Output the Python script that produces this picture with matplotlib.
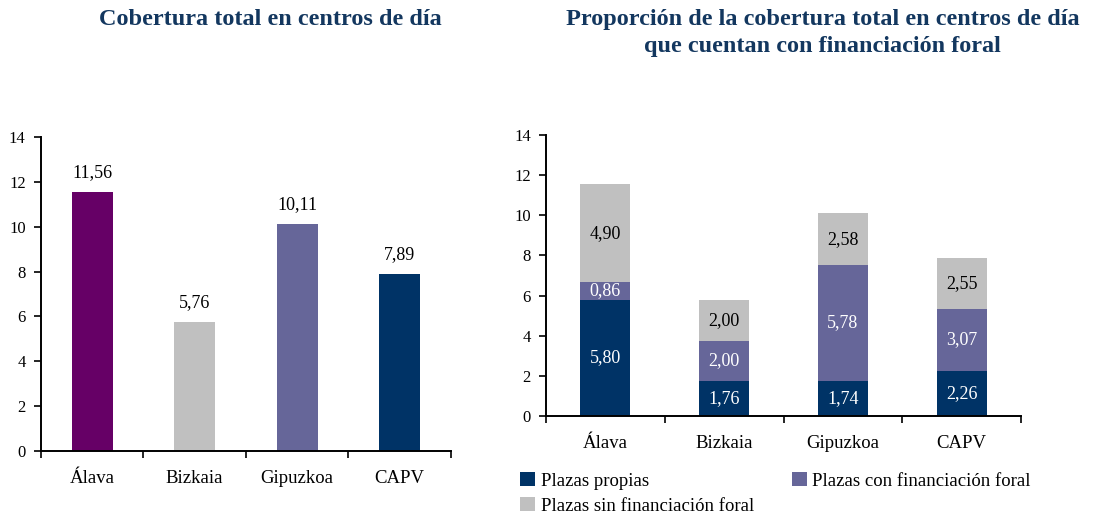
import matplotlib.pyplot as plt
import numpy as np

plt.rcParams['font.family'] = ['Liberation Serif', 'DejaVu Serif']

# Data
territorios = ["Álava", "Bizkaia", "Gipuzkoa", "CAPV"]
cobertura_total = [11.56, 5.76, 10.11, 7.89]
plazas_propias = [5.80, 1.76, 1.74, 2.26]
plazas_con_fin = [0.86, 2.00, 5.78, 3.07]
plazas_sin_fin = [4.90, 2.00, 2.58, 2.55]

colores_total = ["#660066", "#C0C0C0", "#666699", "#003366"]
c_propias, c_con, c_sin = "#003366", "#666699", "#C0C0C0"
title_color = "#13375F"


def fmt(v):
    return f"{v:.2f}".replace(".", ",")


def style_axis(ax, n):
    ax.set_ylim(0, 14)
    ax.set_yticks(range(0, 15, 2))
    ax.set_xlim(-0.5, n - 0.5)
    ax.set_xticks(np.arange(n))
    ax.set_xticklabels(territorios, fontsize=13.5)
    # category boundary ticks
    ax.set_xticks(np.arange(n + 1) - 0.5, minor=True)
    ax.tick_params(axis="x", which="major", length=0, pad=14)
    ax.tick_params(axis="x", which="minor", length=5, width=1.2, direction="out")
    ax.tick_params(axis="y", length=5, width=1.2, labelsize=12, pad=6)
    for s in ["top", "right"]:
        ax.spines[s].set_visible(False)
    for s in ["left", "bottom"]:
        ax.spines[s].set_linewidth(1.4)


fig = plt.figure(figsize=(10.98, 5.16), dpi=100)

# --- Cobertura total ---
ax1 = fig.add_axes([0.0373, 0.126, 0.3734, 0.6085])
x = np.arange(len(territorios))
ax1.bar(x, cobertura_total, width=0.4, color=colores_total)
for xi, v in zip(x, cobertura_total):
    ax1.annotate(fmt(v), (xi, v), xytext=(0, 8), textcoords="offset points",
                 ha="center", va="bottom", fontsize=13)
style_axis(ax1, len(territorios))
fig.text(0.246, 0.963, "Cobertura total en centros de día", ha="center", va="center",
         fontsize=17.5, fontweight="bold", color=title_color)

# --- Proporción con financiación foral ---
ax2 = fig.add_axes([0.4973, 0.1938, 0.4326, 0.5446])
w = 0.42
b1 = ax2.bar(x, plazas_propias, width=w, color=c_propias, label="Plazas propias")
b2 = ax2.bar(x, plazas_con_fin, width=w, bottom=plazas_propias, color=c_con,
             label="Plazas con financiación foral")
base3 = np.array(plazas_propias) + np.array(plazas_con_fin)
b3 = ax2.bar(x, plazas_sin_fin, width=w, bottom=base3, color=c_sin,
             label="Plazas sin financiación foral")

for xi in x:
    p, c, s = plazas_propias[xi], plazas_con_fin[xi], plazas_sin_fin[xi]
    ax2.text(xi, p / 2, fmt(p), ha="center", va="center", fontsize=13, color="white")
    ax2.text(xi, p + c / 2, fmt(c), ha="center", va="center", fontsize=13, color="white")
    ax2.text(xi, p + c + s / 2, fmt(s), ha="center", va="center", fontsize=13, color="black")
style_axis(ax2, len(territorios))

fig.text(0.749, 0.963, "Proporción de la cobertura total en centros de día",
         ha="center", va="center", fontsize=17.5, fontweight="bold", color=title_color)
fig.text(0.749, 0.909, "que cuentan con financiación foral",
         ha="center", va="center", fontsize=17.5, fontweight="bold", color=title_color)

# legend fills column-wise: propias / sin in first column, con in second
fig.legend(handles=[b1, b3, b2], loc="upper left", bbox_to_anchor=(0.467, 0.1),
           ncol=2, frameon=False, fontsize=13.5, handlelength=0.8, handleheight=0.8,
           handletextpad=0.3, columnspacing=2.0, labelspacing=0.4, borderaxespad=0)

fig.savefig("out.png", dpi=100)
